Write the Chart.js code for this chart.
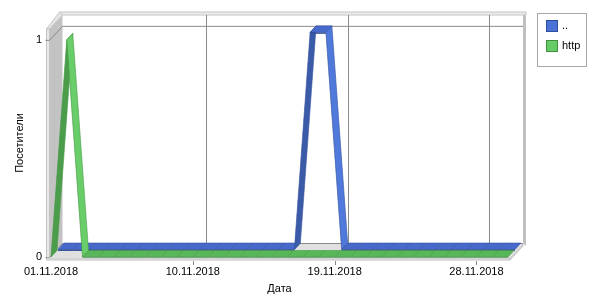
<!DOCTYPE html>
<html>
<head>
<meta charset="utf-8">
<script src="https://cdn.jsdelivr.net/npm/chart.js@4.4.1/dist/chart.umd.min.js"></script>
<style>
  html, body { margin: 0; padding: 0; background: #fff; }
  #wrap { width: 600px; height: 300px; }
</style>
</head>
<body>
<div id="wrap"><canvas id="chart" width="600" height="300"></canvas></div>
<script>
// data
const dates = [
  "01.11.2018", "02.11.2018", "03.11.2018", "04.11.2018", "05.11.2018",
  "06.11.2018", "07.11.2018", "08.11.2018", "09.11.2018", "10.11.2018",
  "11.11.2018", "12.11.2018", "13.11.2018", "14.11.2018", "15.11.2018",
  "16.11.2018", "17.11.2018", "18.11.2018", "19.11.2018", "20.11.2018",
  "21.11.2018", "22.11.2018", "23.11.2018", "24.11.2018", "25.11.2018",
  "26.11.2018", "27.11.2018", "28.11.2018", "29.11.2018", "30.11.2018"
];
const dotsValues = [0, 0, 0, 0, 0, 0, 0, 0, 0, 0, 0, 0, 0, 0, 0, 0, 1, 1, 0, 0, 0, 0, 0, 0, 0, 0, 0, 0, 0, 0];
const httpValues = [0, 1, 0, 0, 0, 0, 0, 0, 0, 0, 0, 0, 0, 0, 0, 0, 0, 0, 0, 0, 0, 0, 0, 0, 0, 0, 0, 0, 0, 0];
const seriesNames = ["..", "http"];
const xTickLabels = ["01.11.2018", "10.11.2018", "19.11.2018", "28.11.2018"];
const yTickValues = [0, 1];

const FONT = "'Liberation Sans', Arial, sans-serif";
const DX = 13, DY = 14; // depth of the 3d box

// colours for each ribbon: flat top, rising, falling, front edge, outline
const palettes = [
  { flat: "#4769cb", up: "#3b5aa8", down: "#5079dc", side: "#34509a", edge: "#37559f", key: "#4a72d6", keyEdge: "#2f4d9a" },
  { flat: "#58b758", up: "#4b9c4b", down: "#69cd69", side: "#3f8d3f", edge: "#469c46", key: "#66cc66", keyEdge: "#3f8f3f" }
];
// depth slot of every series (back series first)
const slots = [[7, 13], [0, 6]];

function poly(ctx, pts, fill, stroke, lw) {
  ctx.beginPath();
  ctx.moveTo(pts[0][0], pts[0][1]);
  for (let i = 1; i < pts.length; i++) ctx.lineTo(pts[i][0], pts[i][1]);
  ctx.closePath();
  if (fill) { ctx.fillStyle = fill; ctx.fill(); }
  if (stroke) { ctx.strokeStyle = stroke; ctx.lineWidth = lw || 1; ctx.stroke(); }
}

function line(ctx, pts, color) {
  ctx.beginPath();
  ctx.moveTo(pts[0][0], pts[0][1]);
  for (let i = 1; i < pts.length; i++) ctx.lineTo(pts[i][0], pts[i][1]);
  ctx.strokeStyle = color;
  ctx.lineWidth = 1;
  ctx.stroke();
}

const box3d = {
  id: "box3d",
  beforeDatasetsDraw(chart) {
    const ctx = chart.ctx;
    const a = chart.chartArea;
    const xs = chart.scales.x, ys = chart.scales.y;
    const xl = a.left - 1.5, xr = a.right + 2, T = a.top, B = a.bottom;
    ctx.save();
    // floor
    poly(ctx, [[xl, B], [xr, B], [xr + DX, B - DY], [xl + DX, B - DY]], "#e0e0e0");
    // left wall
    poly(ctx, [[xl, T], [xl + DX, T - DY], [xl + DX, B - DY], [xl, B]], "#c3c3c3");
    // back wall frame: top and right edges
    poly(ctx, [[xl + DX - 3, T - DY - 3], [xr + DX + 3, T - DY - 3], [xr + DX + 3, T - DY], [xl + DX, T - DY]], "#ececec", "#c4c4c4");
    poly(ctx, [[xr + DX, T - DY], [xr + DX + 3, T - DY], [xr + DX + 3, B - DY + 3], [xr + DX, B - DY]], "#c0c0c0");
    // left wall top cap and front edge
    poly(ctx, [[xl - 3, T], [xl, T], [xl + DX, T - DY], [xl + DX - 3, T - DY - 3]], "#e6e6e6", "#c4c4c4");
    poly(ctx, [[xl - 3, T], [xl, T], [xl, B], [xl - 3, B + 3]], "#e8e8e8", "#c4c4c4");
    // grid lines on the walls
    yTickValues.forEach(v => {
      const y = ys.getPixelForValue(v);
      line(ctx, [[xl - 4, y + 0.5], [xl, y + 0.5], [xl + DX, y - DY + 0.5], [xr + DX, y - DY + 0.5]], "#8a8a8a");
    });
    xTickLabels.forEach(lbl => {
      const i = dates.indexOf(lbl);
      if (i <= 0) return;
      const x = Math.round(xs.getPixelForValue(i)) + 0.5;
      line(ctx, [[x + DX, T - DY], [x + DX, B - DY]], "#8a8a8a");
    });
    ctx.restore();
  },
  afterDatasetsDraw(chart) {
    const ctx = chart.ctx;
    const a = chart.chartArea;
    const xs = chart.scales.x;
    const xl = a.left - 1.5, xr = a.right + 2, B = a.bottom;
    ctx.save();
    // ribbons, back series first
    [0, 1].forEach(di => {
      const pts = chart.getDatasetMeta(di).data;
      const pal = palettes[di];
      const z0 = slots[di][0], z1 = slots[di][1];
      const k = DY / DX;
      for (let i = 0; i < pts.length - 1; i++) {
        const p = pts[i], q = pts[i + 1];
        const d = q.y - p.y;
        const face = d < -1 ? pal.up : (d > 1 ? pal.down : pal.flat);
        poly(ctx, [
          [p.x + z0, p.y - z0 * k], [q.x + z0, q.y - z0 * k],
          [q.x + z1, q.y - z1 * k], [p.x + z1, p.y - z1 * k]
        ], face, pal.edge, 0.6);
        poly(ctx, [
          [p.x + z0, p.y - z0 * k], [q.x + z0, q.y - z0 * k],
          [q.x + z0, q.y - z0 * k + 1.5], [p.x + z0, p.y - z0 * k + 1.5]
        ], pal.side);
      }
    });
    // floor front edge
    poly(ctx, [[xl - 3, B + 1], [xr, B + 1], [xr, B + 3], [xl - 3, B + 3]], "#e8e8e8", "#c0c0c0");
    poly(ctx, [[xr, B + 1], [xr + DX, B - DY + 1], [xr + DX, B - DY + 3], [xr, B + 3]], "#e0e0e0", "#c0c0c0");
    // tick marks under the floor
    xTickLabels.forEach(lbl => {
      const i = dates.indexOf(lbl);
      if (i <= 0) return;
      const x = Math.round(xs.getPixelForValue(i)) + 0.5;
      line(ctx, [[x, B + 4], [x, B + 8]], "#8a8a8a");
    });
    ctx.restore();
  },
  afterDraw(chart) {
    // legend box
    const ctx = chart.ctx;
    ctx.save();
    ctx.fillStyle = "#fff";
    ctx.fillRect(537.5, 13.5, 49, 53);
    ctx.strokeStyle = "#a8a8a8";
    ctx.lineWidth = 1;
    ctx.strokeRect(537.5, 13.5, 49, 53);
    ctx.font = "11px " + FONT;
    ctx.textBaseline = "middle";
    chart.data.datasets.forEach((ds, i) => {
      const y = 20 + i * 20;
      ctx.fillStyle = palettes[i].key;
      ctx.fillRect(546, y, 12, 12);
      ctx.strokeStyle = palettes[i].keyEdge;
      ctx.strokeRect(546.5, y + 0.5, 11, 11);
      ctx.fillStyle = "#000";
      ctx.fillText(ds.label, 562, y + 6);
    });
    ctx.restore();
  }
};

new Chart(document.getElementById("chart"), {
  type: "line",
  data: {
    labels: dates,
    datasets: [
      { label: seriesNames[0], data: dotsValues, showLine: false, pointRadius: 0 },
      { label: seriesNames[1], data: httpValues, showLine: false, pointRadius: 0 }
    ]
  },
  options: {
    responsive: false,
    animation: false,
    devicePixelRatio: 1,
    layout: { padding: { top: 29, right: 92, left: 0, bottom: 0 } },
    plugins: { legend: { display: false }, tooltip: { enabled: false } },
    scales: {
      x: {
        type: "category",
        offset: false,
        grid: { display: false, drawTicks: false },
        border: { display: false },
        ticks: {
          autoSkip: false,
          maxRotation: 0,
          padding: 8,
          color: "#000",
          font: { family: FONT, size: 11 },
          callback: function (v, i) { return xTickLabels.includes(dates[i]) ? dates[i] : null; }
        },
        title: { display: true, text: "Дата", color: "#000", font: { family: FONT, size: 11 }, padding: { top: 0, bottom: 4 } },
        afterFit: function (s) { s.height = 43; }
      },
      y: {
        min: 0,
        max: 1.05,
        grid: { display: false, drawTicks: false },
        border: { display: false },
        afterBuildTicks: function (s) { s.ticks = yTickValues.map(v => ({ value: v })); },
        ticks: { padding: 9, color: "#000", font: { family: FONT, size: 11 } },
        title: { display: true, text: "Посетители", color: "#000", font: { family: FONT, size: 11 }, padding: { top: 13, bottom: 0 } },
        afterFit: function (s) { s.width = 51; }
      }
    }
  },
  plugins: [box3d]
});
</script>
</body>
</html>
